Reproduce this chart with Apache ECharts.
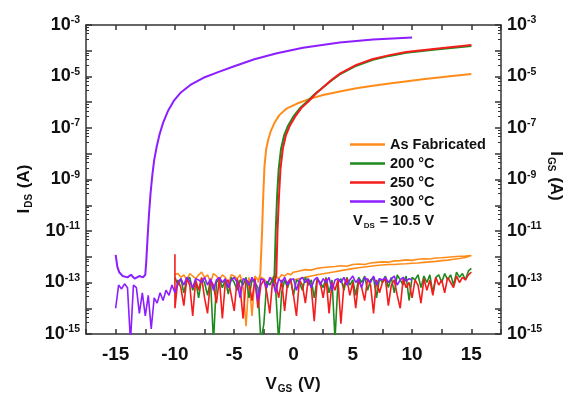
<!DOCTYPE html>
<html><head><meta charset="utf-8">
<script src="https://cdn.jsdelivr.net/npm/echarts@6/dist/echarts.min.js"></script>
<style>html,body{margin:0;padding:0;background:#fff}#c{width:566px;height:396px}</style>
</head><body><div id="c"></div>
<script>
// ---- names / colours ----
const seriesNames = ['As Fabricated', '200 °C', '250 °C', '300 °C'];
const seriesColors = ['#FF8C1A', '#1E8A1E', '#F41C1C', '#8C1EFF'];

// ---- axis ticks ----
const xTickValues = [-15, -10, -5, 0, 5, 10, 15];
const yDecadeLabels = [-15, -13, -11, -9, -7, -5, -3]; // exponents labelled

// ---- I_DS transfer curves: V_GS (V) and log10(I_DS / A) ----
const asFabIdV   = [-3.0, -2.8, -2.65, -2.55, -2.45, -2.3, -2.1, -1.9, -1.6, -1.2, -0.6, 0.3, 1.3, 2.5, 3.9, 5.3, 6.7, 8.1, 10.9, 13, 15];
const asFabIdLog = [-13.0, -12.7, -11.0, -9.6, -8.5, -7.8, -7.4, -7.1, -6.8, -6.5, -6.25, -6.05, -5.88, -5.72, -5.58, -5.46, -5.36, -5.27, -5.11, -5.0, -4.9];

const c200IdV   = [-1.75, -1.6, -1.5, -1.38, -1.25, -1.05, -0.8, -0.45, 0.0, 0.6, 1.2, 1.8, 2.5, 3.2, 3.9, 5.3, 6.7, 8.1, 9.5, 12, 15];
const c200IdLog = [-13.0, -12.7, -11.0, -9.6, -8.6, -7.8, -7.3, -6.9, -6.55, -6.2, -5.95, -5.68, -5.42, -5.15, -4.92, -4.58, -4.35, -4.2, -4.08, -3.95, -3.82];

const c250IdV   = [-1.6, -1.45, -1.35, -1.22, -1.1, -0.9, -0.65, -0.3, 0.15, 0.7, 1.3, 1.9, 2.55, 3.25, 3.95, 5.3, 6.7, 8.1, 9.5, 12, 15];
const c250IdLog = [-13.0, -12.7, -11.0, -9.6, -8.6, -7.8, -7.3, -6.9, -6.55, -6.2, -5.95, -5.66, -5.4, -5.12, -4.88, -4.55, -4.32, -4.17, -4.05, -3.92, -3.78];

const c300IdV   = [-15, -14.85, -14.7, -14.4, -14.0, -13.7, -13.4, -13.0, -12.7, -12.5, -12.42, -12.3, -12.18, -12.05, -11.9, -11.75, -11.55, -11.3, -11.0, -10.6, -10.1, -9.5, -8.7, -7.6, -6.3, -5.0, -3.3, -1.4, 0.8, 3.9, 6.7, 10];
const c300IdLog = [-11.93, -12.4, -12.6, -12.75, -12.8, -12.7, -12.85, -12.75, -12.8, -12.7, -12.2, -11.2, -10.3, -9.5, -8.8, -8.25, -7.75, -7.25, -6.8, -6.35, -5.95, -5.62, -5.33, -5.05, -4.82, -4.6, -4.33, -4.1, -3.88, -3.68, -3.56, -3.49];

// ---- I_GS / off-state noise: V_GS (V) and log10(I / A) ----
const noiseV = [-10, -9.75, -9.5, -9.25, -9, -8.75, -8.5, -8.25, -8, -7.75, -7.5, -7.25, -7, -6.75, -6.5, -6.25, -6, -5.75, -5.5, -5.25,
  -5, -4.75, -4.5, -4.25, -4, -3.75, -3.5, -3.25, -3, -2.75, -2.5, -2.25, -2, -1.75, -1.5, -1.25, -1, -0.75, -0.5, -0.25,
  0, 0.25, 0.5, 0.75, 1, 1.25, 1.5, 1.75, 2, 2.25, 2.5, 2.75, 3, 3.25, 3.5, 3.75, 4, 4.25, 4.5, 4.75,
  5, 5.25, 5.5, 5.75, 6, 6.25, 6.5, 6.75, 7, 7.25, 7.5, 7.75, 8, 8.25, 8.5, 8.75, 9, 9.25, 9.5, 9.75,
  10, 10.25, 10.5, 10.75, 11, 11.25, 11.5, 11.75, 12, 12.25, 12.5, 12.75, 13, 13.25, 13.5, 13.75, 14, 14.25, 14.5, 14.75, 15];

const asFabGsV = [-10, -9.75, -9.5, -9.25, -9, -8.75, -8.5, -8.25, -8, -7.75, -7.5, -7.25, -7, -6.75, -6.5, -6.25, -6, -5.75, -5.5, -5.25,
  -5, -4.75, -4.5, -4.25, -4, -3.75, -3.5, -3.25, -3, -2.75, -2.5, -2.25, -2, -1.75, -1.5, -1.25, -1, -0.75, -0.5, -0.25, 0,
  0.5, 1, 1.5, 2, 2.5, 3, 3.5, 4, 4.5, 5, 5.5, 6, 6.5, 7, 7.5, 8, 8.5, 9, 9.5, 10, 10.5, 11, 11.5, 12, 12.5, 13, 13.5, 14, 14.5, 15,
  14.5, 14, 13.5, 13, 12.5, 12, 11.5, 11, 10.5, 10, 9.5, 9, 8.5, 8, 7.5, 7, 6.5, 6, 5.5, 5, 4.5, 4, 3.5, 3, 2.5, 2, 1.5, 1, 0.5, 0];
const asFabGsLog = [-12.7, -12.65, -12.8, -12.7, -12.9, -12.65, -12.75, -12.85, -12.7, -12.6,
  -12.8, -12.7, -13.0, -12.65, -12.75, -12.9, -12.7, -12.8, -13.1, -12.7,
  -12.75, -12.85, -12.7, -13.2, -14.7, -12.8, -14.3, -12.75, -12.9, -12.8,
  -12.85, -13.0, -12.9, -12.8, -12.75, -12.85, -12.7, -12.75, -12.65, -12.7, -12.6,
  -12.55, -12.5, -12.52, -12.45, -12.42, -12.4, -12.38, -12.35, -12.37, -12.3, -12.28, -12.3, -12.24, -12.22, -12.2, -12.21, -12.16, -12.15, -12.12, -12.14,
  -12.1, -12.08, -12.09, -12.05, -12.04, -12.02, -12.0, -11.98, -11.97, -11.95,
  -12.03, -12.07, -12.1, -12.13, -12.15, -12.18, -12.2, -12.22, -12.24, -12.25, -12.27, -12.28, -12.3, -12.3, -12.32,
  -12.34, -12.37, -12.4, -12.43, -12.46, -12.5, -12.54, -12.58, -12.62, -12.66, -12.7, -12.75, -12.8, -12.85, -12.9];

const c200GsV = noiseV;
const c200GsLog = [-12.8, -13.1, -12.85, -13.4, -12.9, -12.8, -13.3, -12.95, -13.6, -12.85,
  -13.0, -13.5, -12.9, -15.3, -13.0, -12.85, -13.2, -12.9, -13.45, -12.8,
  -13.0, -13.3, -12.9, -13.1, -12.8, -13.6, -12.9, -13.0, -13.2, -15.3,
  -14.6, -12.95, -13.1, -12.85, -13.3, -15.3, -13.4, -12.9, -13.2, -12.85,
  -13.5, -12.9, -13.0, -13.3, -12.8, -13.1, -12.9, -13.6, -12.85, -13.0,
  -13.2, -12.8, -13.4, -12.9, -15.2, -13.0, -12.85, -13.3, -12.8, -13.1,
  -12.9, -13.5, -12.8, -13.0, -12.75, -13.3, -12.9, -12.8, -13.6, -12.85,
  -13.0, -12.75, -13.2, -12.8, -13.4, -12.7, -12.9, -13.1, -12.75, -13.7,
  -12.8, -12.9, -12.7, -13.2, -12.75, -13.0, -12.7, -13.4, -12.8, -12.7,
  -13.0, -12.65, -12.9, -12.7, -13.1, -12.6, -12.8, -12.65, -12.9, -12.55, -12.45];

const c250GsV = [-10, ...noiseV];
const c250GsLog = [-11.9,
  -14.0, -12.9, -13.2, -13.9, -12.85, -13.1, -14.3, -12.9, -13.3, -12.8,
  -13.6, -14.2, -12.9, -13.1, -13.8, -12.85, -14.4, -13.0, -12.9, -13.5,
  -14.1, -12.85, -13.2, -14.4, -12.9, -13.0, -13.7, -12.85, -14.0, -13.1,
  -12.9, -13.4, -14.2, -12.85, -13.0, -13.6, -12.9, -14.1, -13.0, -12.85,
  -13.5, -14.3, -12.9, -13.1, -13.8, -12.85, -13.2, -14.5, -12.9, -13.0,
  -13.6, -12.85, -14.2, -13.0, -13.3, -12.9, -14.6, -13.1, -12.85, -13.5,
  -13.0, -14.0, -12.9, -13.2, -13.7, -12.85, -13.1, -14.2, -12.9, -13.4,
  -13.0, -12.85, -13.9, -13.1, -12.9, -13.5, -14.0, -12.85, -13.2, -13.0,
  -13.6, -12.9, -13.1, -13.8, -12.85, -13.3, -12.9, -13.5, -12.8, -13.1,
  -12.9, -13.4, -12.8, -13.0, -13.2, -12.75, -13.0, -12.8, -12.9, -12.7, -12.6];

const c300GsV = [-15, -14.75, -14.5, -14.25, -14, -13.75, -13.5, -13.25, -13, -12.75, -12.5, -12.25, -12, -11.75, -11.5, -11.25, -11, -10.75, -10.5, -10.25, -10,
  -9.75, -9.5, -9.25, -9, -8.75, -8.5, -8.25, -8, -7.75, -7.5, -7.25, -7, -6.75, -6.5, -6.25, -6, -5.75, -5.5, -5.25, -5,
  -4.75, -4.5, -4.25, -4, -3.75, -3.5, -3.25, -3, -2.75, -2.5, -2.25, -2, -1.75, -1.5, -1.25, -1, -0.75, -0.5, -0.25, 0,
  0.25, 0.5, 0.75, 1, 1.25, 1.5, 1.75, 2, 2.25, 2.5, 2.75, 3, 3.25, 3.5, 3.75, 4, 4.25, 4.5, 4.75, 5,
  5.25, 5.5, 5.75, 6, 6.25, 6.5, 6.75, 7, 7.25, 7.5, 7.75, 8, 8.25, 8.5, 8.75, 9, 9.25, 9.5, 9.75, 10];
const c300GsLog = [-14.0, -13.1, -13.25, -13.05, -13.2, -15.3, -13.1, -13.2, -14.2, -13.4, -14.3, -13.5, -14.8, -13.6, -13.8, -13.4, -13.7, -13.3, -13.5, -13.1, -13.4,
  -13.0, -12.85, -13.1, -12.8, -12.95, -13.2, -12.85, -12.9, -13.0, -12.8,
  -13.1, -12.85, -13.3, -12.9, -12.8, -13.0, -12.85, -13.2, -12.9, -12.8,
  -13.0, -13.6, -12.85, -12.9, -13.1, -12.8, -13.0, -13.7, -12.85, -12.9,
  -13.2, -12.8, -12.95, -13.4, -12.85, -13.0, -12.8, -13.1, -12.9, -12.85,
  -13.3, -12.9, -12.8, -13.0, -12.85, -13.2, -12.9, -12.8, -13.1, -12.85,
  -13.0, -12.8, -13.3, -12.9, -12.85, -13.0, -12.8, -13.1, -12.9, -12.75,
  -13.0, -12.85, -13.2, -12.8, -12.9, -13.0, -12.75, -13.1, -12.85, -12.9,
  -12.8, -13.0, -12.85, -12.75, -13.1, -12.9, -12.8, -12.95, -12.85, -12.9];

const idSets = [[asFabIdV, asFabIdLog], [c200IdV, c200IdLog], [c250IdV, c250IdLog], [c300IdV, c300IdLog]];
const gsSets = [[asFabGsV, asFabGsLog], [c200GsV, c200GsLog], [c250GsV, c250GsLog], [c300GsV, c300GsLog]];

function toPairs(vs, logs) { return vs.map((v, i) => [v, Math.pow(10, logs[i])]); }

const FONT = 'Liberation Sans, Arial, sans-serif';
const axisColor = '#333';

function yLabel(val) {
  const e = Math.round(Math.log10(val));
  return yDecadeLabels.indexOf(e) >= 0 ? '{b|10}{s|' + e + '}' : '';
}
const yRich = {
  b: {fontSize: 18, fontWeight: 'bold', fontFamily: FONT, color: '#111', lineHeight: 20},
  s: {fontSize: 10.5, fontWeight: 'bold', fontFamily: FONT, color: '#111', verticalAlign: 'top', lineHeight: 20, padding: [0, 0, 6, 0]}
};
function makeY(pos) {
  return {
    type: 'log', logBase: 10, min: 1e-15, max: 1e-3, interval: 1, position: pos,
    axisLine: {show: true, onZero: false, lineStyle: {color: axisColor, width: 1.5}},
    axisTick: {show: true, inside: true, length: 6, lineStyle: {color: axisColor, width: 1.5}},
    minorTick: {show: true, splitNumber: 5, length: 3, lineStyle: {color: axisColor, width: 1}},
    splitLine: {show: false},
    axisLabel: {formatter: yLabel, rich: yRich, margin: 6, showMinLabel: true, showMaxLabel: true}
  };
}
function makeX(pos, showLabel) {
  return {
    type: 'value', min: -17.5, max: 17.5, interval: 2.5, position: pos,
    axisLine: {show: true, onZero: false, lineStyle: {color: axisColor, width: 1.5}},
    axisTick: {show: true, inside: true, length: 5, lineStyle: {color: axisColor, width: 1.5}},
    splitLine: {show: false},
    axisLabel: {
      show: showLabel, margin: 11, fontSize: 19, fontWeight: 'bold', fontFamily: FONT, color: '#111',
      formatter: v => (xTickValues.indexOf(Math.round(v * 100) / 100) >= 0 ? String(v) : '')
    }
  };
}

const series = [];
seriesNames.forEach((name, k) => {
  series.push({
    name: name, type: 'line', data: toPairs(gsSets[k][0], gsSets[k][1]),
    showSymbol: false, symbol: 'none', color: seriesColors[k],
    lineStyle: {width: 1.6, color: seriesColors[k]}, z: 2 + k, animation: false
  });
});
seriesNames.forEach((name, k) => {
  series.push({
    name: name, type: 'line', data: toPairs(idSets[k][0], idSets[k][1]),
    showSymbol: false, symbol: 'none', color: seriesColors[k], smooth: false,
    lineStyle: {width: 2, color: seriesColors[k]}, z: 10 + k, animation: false
  });
});

const chart = echarts.init(document.getElementById('c'), null, {renderer: 'canvas'});
chart.setOption({
  animation: false,
  backgroundColor: '#fff',
  grid: {left: 86, right: 65, top: 25, bottom: 62, containLabel: false},
  xAxis: [makeX('bottom', true), makeX('top', false)],
  yAxis: [makeY('left'), makeY('right')],
  legend: {
    data: seriesNames, orient: 'vertical', left: 345, top: 132, itemWidth: 35, itemHeight: 2.5, itemGap: 4,
    icon: 'rect', selectedMode: false,
    textStyle: {fontSize: 14.5, fontWeight: 'bold', fontFamily: FONT, color: '#111', lineHeight: 15}
  },
  graphic: [
    {type: 'text', left: 353, top: 213, style: {
      text: '{b|V}{sub|DS}{b| = 10.5 V}',
      rich: {b: {fontSize: 14.5, fontWeight: 'bold', fontFamily: FONT, fill: '#111', lineHeight: 18},
             sub: {fontSize: 8, fontWeight: 'bold', fontFamily: FONT, fill: '#111', verticalAlign: 'bottom', lineHeight: 18, padding: [6, 1, 0, 1]}}
    }},
    {type: 'text', x: 293, y: 384, style: {
      text: '{b|V}{sub|GS}{b| (V)}', align: 'center', verticalAlign: 'middle',
      rich: {b: {fontSize: 17, fontWeight: 'bold', fontFamily: FONT, fill: '#111', lineHeight: 20},
             sub: {fontSize: 10, fontWeight: 'bold', fontFamily: FONT, fill: '#111', verticalAlign: 'bottom', lineHeight: 20, padding: [7, 1, 0, 1]}}
    }},
    {type: 'text', x: 24, y: 189, rotation: Math.PI / 2, style: {
      text: '{b|I}{sub|DS}{b| (A)}', align: 'center', verticalAlign: 'middle',
      rich: {b: {fontSize: 17, fontWeight: 'bold', fontFamily: FONT, fill: '#111', lineHeight: 20},
             sub: {fontSize: 10, fontWeight: 'bold', fontFamily: FONT, fill: '#111', verticalAlign: 'bottom', lineHeight: 20, padding: [7, 1, 0, 1]}}
    }},
    {type: 'text', x: 556, y: 176, rotation: -Math.PI / 2, style: {
      text: '{b|I}{sub|GS}{b| (A)}', align: 'center', verticalAlign: 'middle',
      rich: {b: {fontSize: 17, fontWeight: 'bold', fontFamily: FONT, fill: '#111', lineHeight: 20},
             sub: {fontSize: 10, fontWeight: 'bold', fontFamily: FONT, fill: '#111', verticalAlign: 'bottom', lineHeight: 20, padding: [7, 1, 0, 1]}}
    }}
  ],
  series: series
});
</script>
</body></html>
